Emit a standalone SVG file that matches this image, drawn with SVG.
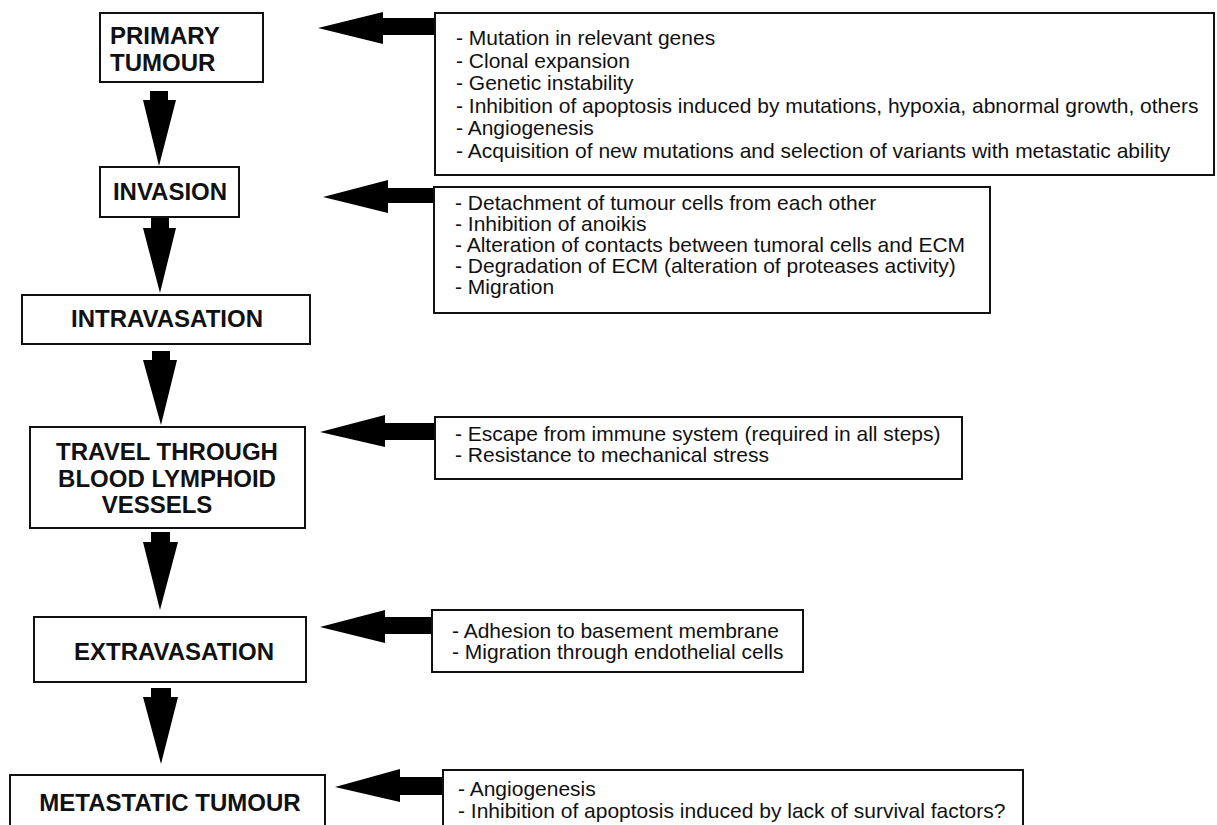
<svg xmlns="http://www.w3.org/2000/svg" width="1217" height="825" viewBox="0 0 1217 825">
<style>
.box{fill:#fff;stroke:#111;stroke-width:2}
.step{font-family:"Liberation Sans",Arial,sans-serif;font-weight:bold;font-size:24px;fill:#111;text-anchor:middle}
.stepl{font-family:"Liberation Sans",Arial,sans-serif;font-weight:bold;font-size:24px;fill:#111}
.note{font-family:"Liberation Sans",Arial,sans-serif;font-size:21px;fill:#111}
.arr{fill:#000}
</style>
<rect width="1217" height="825" fill="#fff"/>
<g id="connectors">
<polygon class="arr" points="150,91 168,91 168,100 176,100 159,166 143,100 150,100"/>
<polygon class="arr" points="151,218 169,218 169,228 176,228 160,293 143,228 151,228"/>
<polygon class="arr" points="152,351 170,351 170,360 177,360 161,425 143,360 152,360"/>
<polygon class="arr" points="151,532 170,532 170,542 178,542 160,610 143,542 151,542"/>
<polygon class="arr" points="151,688 171,688 171,697 178,697 161,764 143,697 151,697"/>
<polygon class="arr" points="318,28 383,12 383,18 436,18 436,35 383,35 383,44"/>
<polygon class="arr" points="323,197 388,180 388,188 435,188 435,203 388,203 388,213"/>
<polygon class="arr" points="320,432 385,415 385,423 436,423 436,440 385,440 385,447"/>
<polygon class="arr" points="320,627 385,610 385,617 433,617 433,634 385,634 385,643"/>
<polygon class="arr" points="335,787 400,769 400,777 444,777 444,795 400,795 400,802"/>
</g>
<g id="primary">
<rect class="box" x="100" y="13" width="163" height="69"/>
<text class="stepl" x="110" y="44">PRIMARY</text>
<text class="stepl" x="110" y="71">TUMOUR</text>
</g>
<g id="invasion">
<rect class="box" x="100" y="167" width="139" height="50"/>
<text class="step" x="170" y="200">INVASION</text>
</g>
<g id="intravasation">
<rect class="box" x="22" y="295" width="288" height="49"/>
<text class="step" x="167" y="327">INTRAVASATION</text>
</g>
<g id="travel">
<rect class="box" x="30" y="427" width="275" height="101"/>
<text class="step" x="167" y="460">TRAVEL THROUGH</text>
<text class="step" x="167" y="487">BLOOD LYMPHOID</text>
<text class="step" x="157" y="513">VESSELS</text>
</g>
<g id="extravasation">
<rect class="box" x="34" y="617" width="272" height="65"/>
<text class="step" x="174" y="660">EXTRAVASATION</text>
</g>
<g id="metastatic">
<rect class="box" x="10" y="775" width="315" height="60"/>
<text class="step" x="170" y="811">METASTATIC TUMOUR</text>
</g>
<g id="notes-primary">
<rect class="box" x="435" y="13" width="779" height="162"/>
<text class="note" x="456" y="45">- Mutation in relevant genes</text>
<text class="note" x="456" y="67.5">- Clonal expansion</text>
<text class="note" x="456" y="90">- Genetic instability</text>
<text class="note" x="456" y="112.5">- Inhibition of apoptosis induced by mutations, hypoxia, abnormal growth, others</text>
<text class="note" x="456" y="135">- Angiogenesis</text>
<text class="note" x="456" y="157.5">- Acquisition of new mutations and selection of variants with metastatic ability</text>
</g>
<g id="notes-invasion">
<rect class="box" x="434" y="187" width="556" height="126"/>
<text class="note" x="455" y="210">- Detachment of tumour cells from each other</text>
<text class="note" x="455" y="231">- Inhibition of anoikis</text>
<text class="note" x="455" y="252">- Alteration of contacts between tumoral cells and ECM</text>
<text class="note" x="455" y="273">- Degradation of ECM (alteration of proteases activity)</text>
<text class="note" x="455" y="294">- Migration</text>
</g>
<g id="notes-travel">
<rect class="box" x="435" y="417" width="527" height="62"/>
<text class="note" x="455" y="441">- Escape from immune system (required in all steps)</text>
<text class="note" x="455" y="462">- Resistance to mechanical stress</text>
</g>
<g id="notes-extravasation">
<rect class="box" x="432" y="610" width="371" height="62"/>
<text class="note" x="452" y="638">- Adhesion to basement membrane</text>
<text class="note" x="452" y="659">- Migration through endothelial cells</text>
</g>
<g id="notes-metastatic">
<rect class="box" x="443" y="770" width="580" height="60"/>
<text class="note" x="458" y="796">- Angiogenesis</text>
<text class="note" x="458" y="818">- Inhibition of apoptosis  induced by lack of survival factors?</text>
</g>
</svg>
